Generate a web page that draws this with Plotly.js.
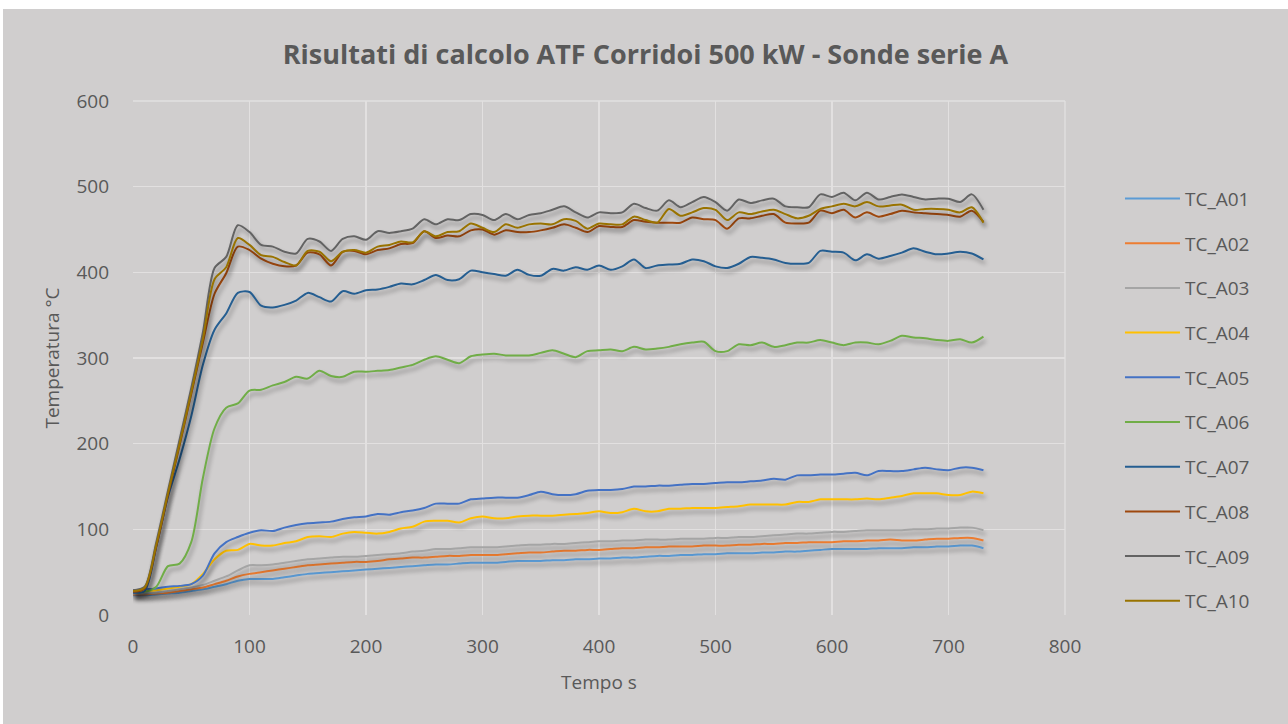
<!DOCTYPE html>
<html>
<head>
<meta charset="utf-8">
<script src="https://cdn.plot.ly/plotly-3.0.1.min.js"></script>
<style>
  html, body { margin: 0; padding: 0; background: #ffffff; width: 1288px; height: 724px; overflow: hidden; }
  #chart { position: absolute; left: 3px; top: 9px; width: 1285px; height: 715px; }
  #chart .scatterlayer .trace path.js-line { filter: drop-shadow(2px 4px 2px rgba(0,0,0,0.35)); }
</style>
</head>
<body>
<div id="chart"></div>
<script>
// Time (s)
const tempo = [0,10,20,30,40,50,60,70,80,90,100,110,120,130,140,150,160,170,180,190,200,210,220,230,240,250,260,270,280,290,300,310,320,330,340,350,360,370,380,390,400,410,420,430,440,450,460,470,480,490,500,510,520,530,540,550,560,570,580,590,600,610,620,630,640,650,660,670,680,690,700,710,720,730];

const TC_A01 = [23,23,24,25,26,28,30,33,36,40,42,42,42,44,46,48,49,50,51,52,53,54,55,56,57,58,59,59,60,61,61,61,62,63,63,63,64,64,65,65,66,66,67,67,68,69,69,70,70,71,71,72,72,72,73,73,74,74,75,76,77,77,77,77,78,78,78,79,79,80,80,81,81,78];
const TC_A02 = [24,24,25,26,28,30,32,36,40,45,48,50,52,54,56,58,59,60,61,62,62,63,65,66,67,67,68,69,69,70,70,70,71,72,73,73,74,75,75,76,76,77,78,78,79,79,80,80,80,81,81,81,82,82,83,83,84,84,85,85,85,86,86,87,87,88,87,87,88,89,89,90,90,87];
const TC_A03 = [25,25,26,28,30,32,35,40,45,52,58,58,59,61,63,65,66,67,68,68,69,70,71,72,74,75,77,77,78,79,79,79,80,81,82,82,83,83,84,85,86,86,87,87,88,88,88,89,89,89,90,90,91,91,92,93,94,95,95,96,97,97,98,99,99,99,99,100,100,101,101,102,102,99];
const TC_A04 = [27,28,29,31,33,36,48,65,75,76,83,81,81,84,86,91,92,91,95,97,96,95,97,101,103,109,110,110,108,113,115,113,113,115,116,116,116,117,118,119,121,119,120,124,121,121,124,124,125,125,125,126,127,129,129,129,129,132,132,135,135,135,135,136,135,137,139,142,142,142,140,140,144,142];
const TC_A05 = [29,30,31,33,34,36,46,72,85,91,96,99,98,102,105,107,108,109,112,114,115,118,117,120,122,125,130,130,130,135,136,137,137,137,140,144,141,140,141,145,146,146,147,150,150,151,151,152,153,153,154,155,155,156,157,159,158,163,163,164,164,165,166,163,168,168,168,170,172,170,169,172,172,169];
const TC_A06 = [27,27,33,57,60,85,160,218,242,247,262,263,268,272,278,276,285,279,278,284,284,285,286,289,292,298,302,298,294,302,304,305,303,303,303,306,309,305,301,308,309,310,308,313,310,311,313,316,318,319,308,308,316,315,318,313,315,318,318,321,318,315,318,318,316,320,326,324,323,321,320,322,318,325];
const TC_A07 = [26,28,80,138,182,232,292,333,352,376,377,361,359,362,367,376,371,366,378,375,379,380,383,387,386,391,397,391,392,402,400,398,396,403,397,396,404,402,406,403,408,403,407,415,405,408,409,410,415,413,407,405,410,418,417,415,411,410,411,425,424,423,414,421,416,419,423,428,424,421,422,424,422,415];
const TC_A08 = [27,31,80,140,198,258,318,375,399,430,426,416,410,407,408,423,421,408,424,425,421,426,428,433,434,448,440,443,442,449,450,444,449,447,447,449,452,456,452,447,454,453,453,461,459,458,458,458,464,462,461,451,463,463,466,468,458,457,458,472,469,473,464,470,465,468,472,470,469,468,467,465,472,459];
const TC_A09 = [29,33,85,145,205,265,330,405,418,455,447,432,430,424,422,439,436,425,439,442,438,448,446,448,451,462,456,462,461,468,467,461,468,462,467,469,473,477,470,464,470,469,470,480,475,472,484,476,482,488,482,472,485,481,484,486,477,476,476,491,488,493,484,493,485,488,491,488,485,486,486,482,491,473];
const TC_A10 = [28,32,82,142,200,260,322,392,406,440,432,420,418,412,408,425,424,413,424,426,423,430,432,436,435,448,442,447,448,457,452,447,456,452,456,457,456,462,460,451,457,456,456,465,461,458,474,466,470,475,473,461,470,468,471,473,468,463,466,474,477,480,477,482,477,478,479,473,474,474,473,470,476,458];

const seriesNames = ["TC_A01","TC_A02","TC_A03","TC_A04","TC_A05","TC_A06","TC_A07","TC_A08","TC_A09","TC_A10"];
const seriesValues = [TC_A01,TC_A02,TC_A03,TC_A04,TC_A05,TC_A06,TC_A07,TC_A08,TC_A09,TC_A10];
const seriesColors = ["#5b9bd5","#ed7d31","#a5a5a5","#ffc000","#4472c4","#70ad47","#255e91","#9e480e","#636363","#997300"];

const xTicks = [0,100,200,300,400,500,600,700,800];
const yTicks = [0,100,200,300,400,500,600];

const FONT = "'Open Sans', 'Noto Sans', 'Liberation Sans', sans-serif";
const TXT = "#595959";

const traces = seriesNames.map((n, i) => ({
  type: "scatter",
  mode: "lines",
  name: n,
  x: tempo,
  y: seriesValues[i],
  line: { color: seriesColors[i], width: 2, shape: "spline", smoothing: 0.8 },
  legendgroup: n,
  hoverinfo: "x+y+name"
}));

const layout = {
  width: 1285,
  height: 715,
  paper_bgcolor: "#d0cece",
  plot_bgcolor: "#d0cece",
  margin: { l: 130, r: 223, t: 92, b: 109 },
  font: { family: FONT, color: TXT, size: 20 },
  title: {
    text: "<b>Risultati di calcolo ATF Corridoi 500 kW - Sonde serie A</b>",
    font: { family: FONT, size: 27, color: TXT },
    x: 0.5, xanchor: "center", xref: "container",
    y: 1 - 46/715, yanchor: "middle", yref: "container"
  },
  xaxis: {
    range: [0, 800],
    tickvals: xTicks,
    ticktext: xTicks.map(String),
    showgrid: true, gridcolor: "#e2e0e0", gridwidth: 1.3,
    zeroline: false, showline: false, ticks: "",
    ticklabelstandoff: 18,
    tickfont: { family: FONT, size: 19, color: TXT },
    title: { text: "Tempo s", font: { family: FONT, size: 19, color: TXT }, standoff: 17 }
  },
  yaxis: {
    range: [0, 600],
    tickvals: yTicks,
    ticktext: yTicks.map(String),
    showgrid: true, gridcolor: "#e2e0e0", gridwidth: 1.3,
    zeroline: false, showline: false, ticks: "",
    ticklabelstandoff: 23,
    tickfont: { family: FONT, size: 19, color: TXT },
    title: { text: "Temperatura °C", font: { family: FONT, size: 19, color: TXT }, standoff: 11 }
  },
  showlegend: true,
  legend: {
    x: 1.059, xanchor: "left", xref: "paper",
    y: 0.419, yanchor: "middle",
    bgcolor: "rgba(0,0,0,0)",
    font: { family: FONT, size: 19, color: TXT },
    tracegroupgap: 17,
    itemwidth: 55,
    traceorder: "grouped"
  },
  shapes: [
    { type: "line", xref: "paper", yref: "paper", x0: 1, x1: 1, y0: 0, y1: 1, line: { color: "#e2e0e0", width: 1.3 } },
    { type: "line", xref: "paper", yref: "paper", x0: 0, x1: 1, y0: 1, y1: 1, line: { color: "#e2e0e0", width: 1.3 } }
  ]
};

Plotly.newPlot("chart", traces, layout, { displayModeBar: false, staticPlot: true });
</script>
</body>
</html>
